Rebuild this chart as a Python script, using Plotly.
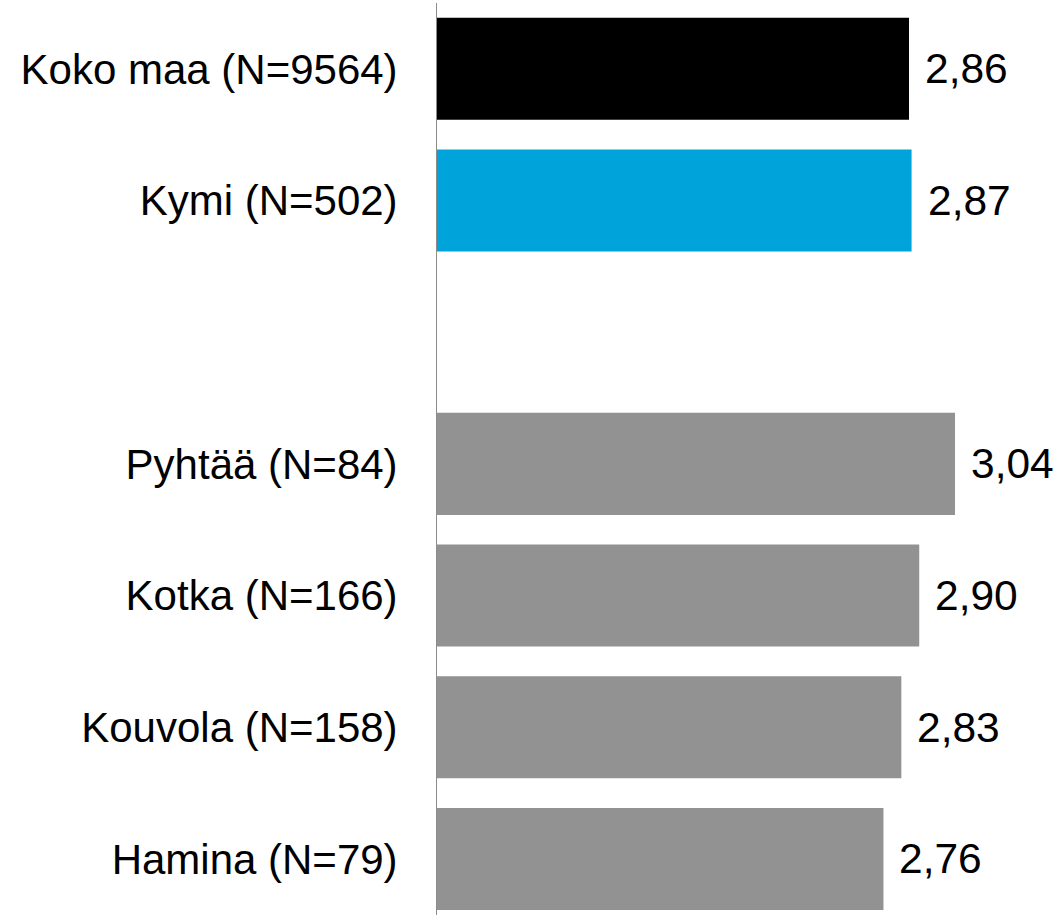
import plotly.graph_objects as go

categories = ["Koko maa (N=9564)", "Kymi (N=502)", "Pyhtää (N=84)", "Kotka (N=166)",
              "Kouvola (N=158)", "Hamina (N=79)"]
values = [2.86, 2.87, 3.04, 2.90, 2.83, 2.76]
value_labels = ["2,86", "2,87", "3,04", "2,90", "2,83", "2,76"]
colors = ["#000000", "#00A3DA", "#929292", "#929292", "#929292", "#929292"]
category_order = ["Koko maa (N=9564)", "Kymi (N=502)", " ", "Pyhtää (N=84)",
                  "Kotka (N=166)", "Kouvola (N=158)", "Hamina (N=79)"]

FONT = "Liberation Sans, Arial, sans-serif"

fig = go.Figure()
fig.add_trace(go.Bar(
    x=values, y=categories, orientation="h",
    marker=dict(color=colors, line=dict(width=0)),
    width=0.775, hoverinfo="skip",
))

for c, v, t in zip(categories, values, value_labels):
    fig.add_annotation(x=v, y=c, text=t, showarrow=False, xanchor="left",
                       yanchor="middle", xshift=14,
                       font=dict(family=FONT, size=42.5, color="#000000"))

fig.update_layout(
    width=1058, height=915,
    margin=dict(l=437, r=0, t=3, b=0, autoexpand=False),
    plot_bgcolor="white", paper_bgcolor="white",
    showlegend=False,
    bargap=0.225,
    xaxis=dict(range=[1.013, 3.443], showgrid=False, zeroline=False,
               showticklabels=False, showline=False, fixedrange=True),
    yaxis=dict(type="category", categoryorder="array", categoryarray=category_order,
               range=[6.426, -0.5], showgrid=False, zeroline=False,
               showline=True, linecolor="#8c8c8c", linewidth=1,
               ticks="", ticklabelstandoff=30,
               tickfont=dict(family=FONT, size=42, color="#000000")),
)

fig.write_html("out.html")
